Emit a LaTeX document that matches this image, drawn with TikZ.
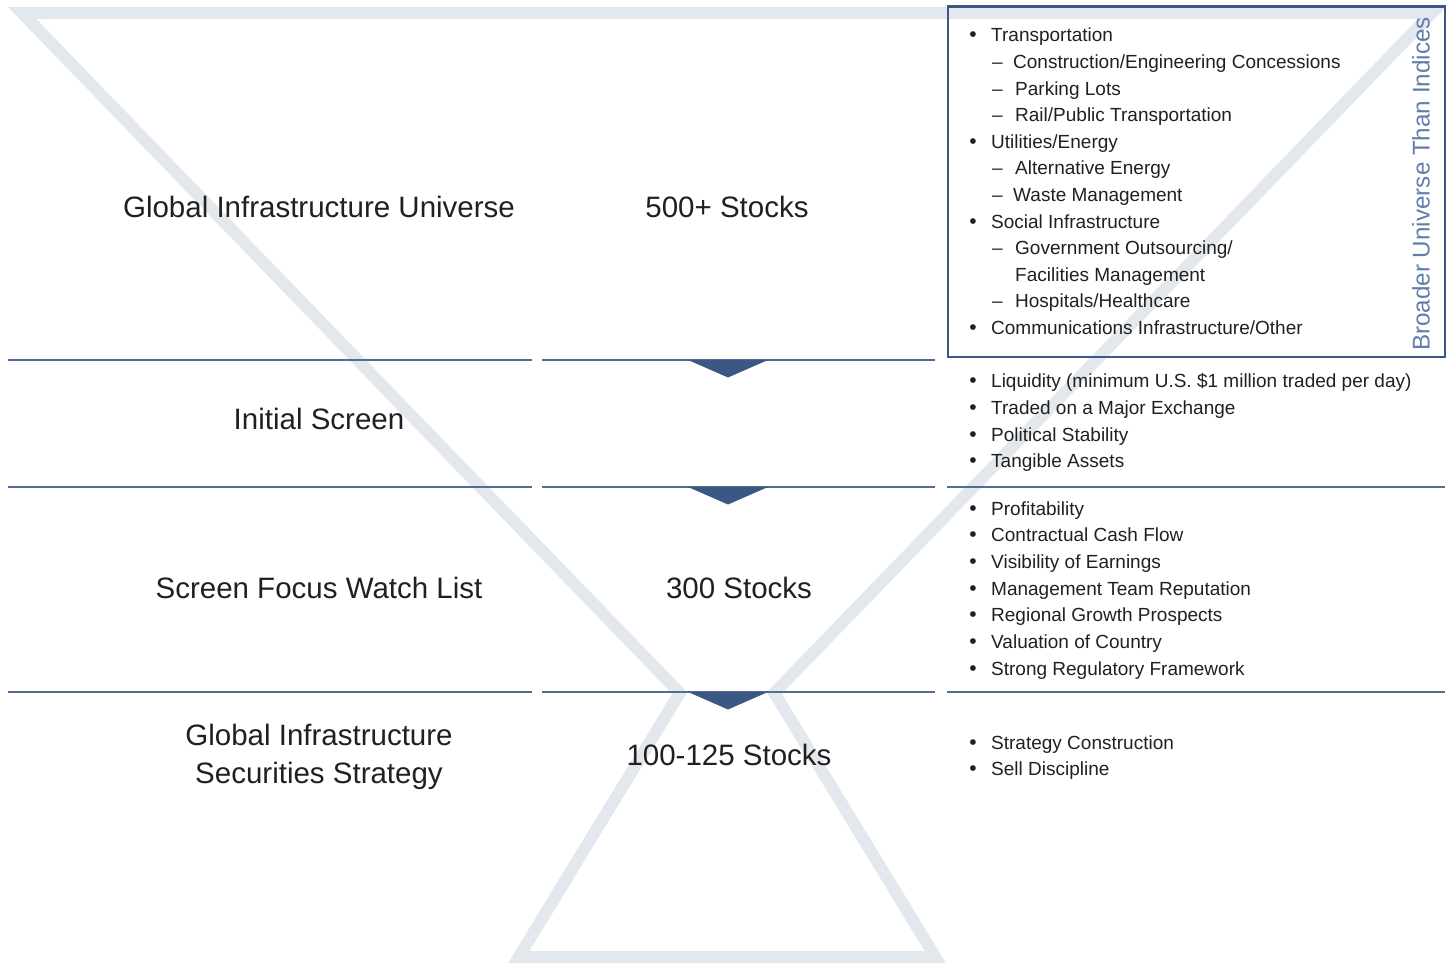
\documentclass[tikz,border=0pt]{standalone}
\usepackage{fontspec}
\setmainfont{Liberation Sans}
\definecolor{band}{RGB}{227,232,238}
\definecolor{rule}{RGB}{84,108,145}
\definecolor{navy}{RGB}{59,88,132}
\definecolor{steel}{RGB}{96,126,170}
\definecolor{ink}{RGB}{35,31,32}
\begin{document}
\begin{tikzpicture}[x=1pt,y=-1pt,
  head/.style={font=\fontsize{29.5}{36}\selectfont, text=ink, anchor=base, inner sep=0pt},
  item/.style={font=\fontsize{19}{23}\selectfont, text=ink, anchor=base west, inner sep=0pt},
  dot/.style={font=\fontsize{21}{23}\selectfont, text=ink, anchor=base, inner sep=0pt},
  sep/.style={draw=rule, line width=1.6pt},
  marker/.style={fill=navy},
  frame/.style={draw=navy, line width=2.6pt},
  sidelabel/.style={font=\fontsize{24.2}{28}\selectfont, text=steel, rotate=90, inner sep=0pt},
]
\useasboundingbox (0,0) rectangle (1453,973);

% hourglass outline behind everything
\draw[band, line width=12pt, line join=miter]
  (22.1,13) -- (1431.9,13) -- (774.3,693) -- (935.3,957)
  -- (518.7,957) -- (679.7,693) -- cycle;

% row separators
\foreach \y in {360,487,692} {
  \draw[sep] (8,\y) -- (532,\y);
  \draw[sep] (542,\y) -- (935,\y);
}
\foreach \y in {487,692} {
  \draw[sep] (947,\y) -- (1445,\y);
}

% downward markers on the separators
\foreach \y in {360,487,692} {
  \fill[marker] (688,\y) -- (768,\y) -- (728,\y+17.5) -- cycle;
}

% framed category box
\draw[frame] (948,6.5) rectangle (1445,357);
\node[sidelabel] (side) at (1421,184) {Broader Universe Than Indices};

% stage titles
\node[head] (u1) at (319,218) {Global Infrastructure Universe};
\node[head] (u2) at (727,218) {500+ Stocks};
\node[head] (s1) at (319,429) {Initial Screen};
\node[head] (w1) at (319,598) {Screen Focus Watch List};
\node[head] (w2) at (739,598) {300 Stocks};
\node[head] (g1) at (319,745) {Global Infrastructure};
\node[head] (g2) at (319,783) {Securities Strategy};
\node[head] (g3) at (729,765) {100-125 Stocks};

% universe categories
\node[dot]  (a1b) at (973,42)    {•}; \node[item] (a1) at (991,42)    {Transportation};
\node[item] (a2d) at (992,68.6)  {–}; \node[item] (a2) at (1013,68.6) {Construction/Engineering Concessions};
\node[item] (a3d) at (992,95.2)  {–}; \node[item] (a3) at (1015,95.2) {Parking Lots};
\node[item] (a4d) at (992,121.8) {–}; \node[item] (a4) at (1015,121.8) {Rail/Public Transportation};
\node[dot]  (a5b) at (973,148.4) {•}; \node[item] (a5) at (991,148.4) {Utilities/Energy};
\node[item] (a6d) at (992,175)   {–}; \node[item] (a6) at (1015,175)   {Alternative Energy};
\node[item] (a7d) at (992,201.6) {–}; \node[item] (a7) at (1013,201.6) {Waste Management};
\node[dot]  (a8b) at (973,228.2) {•}; \node[item] (a8) at (991,228.2) {Social Infrastructure};
\node[item] (a9d) at (992,254.8) {–}; \node[item] (a9) at (1015,254.8) {Government Outsourcing/};
                                        \node[item] (a10) at (1015,281.4) {Facilities Management};
\node[item] (a11d) at (992,308)  {–}; \node[item] (a11) at (1015,308)  {Hospitals/Healthcare};
\node[dot]  (a12b) at (973,334.6) {•}; \node[item] (a12) at (991,334.6) {Communications Infrastructure/Other};

% initial screen criteria
\node[dot] (b1b) at (973,388)   {•}; \node[item] (b1) at (991,388)   {Liquidity (minimum U.S. \$1 million traded per day)};
\node[dot] (b2b) at (973,414.6) {•}; \node[item] (b2) at (991,414.6) {Traded on a Major Exchange};
\node[dot] (b3b) at (973,441.2) {•}; \node[item] (b3) at (991,441.2) {Political Stability};
\node[dot] (b4b) at (973,467.8) {•}; \node[item] (b4) at (991,467.8) {Tangible Assets};

% watch list criteria
\node[dot] (c1b) at (973,515)   {•}; \node[item] (c1) at (991,515)   {Profitability};
\node[dot] (c2b) at (973,541.7) {•}; \node[item] (c2) at (991,541.7) {Contractual Cash Flow};
\node[dot] (c3b) at (973,568.3) {•}; \node[item] (c3) at (991,568.3) {Visibility of Earnings};
\node[dot] (c4b) at (973,595)   {•}; \node[item] (c4) at (991,595)   {Management Team Reputation};
\node[dot] (c5b) at (973,621.7) {•}; \node[item] (c5) at (991,621.7) {Regional Growth Prospects};
\node[dot] (c6b) at (973,648.3) {•}; \node[item] (c6) at (991,648.3) {Valuation of Country};
\node[dot] (c7b) at (973,675)   {•}; \node[item] (c7) at (991,675)   {Strong Regulatory Framework};

% strategy steps
\node[dot] (d1b) at (973,749) {•}; \node[item] (d1) at (991,749) {Strategy Construction};
\node[dot] (d2b) at (973,775) {•}; \node[item] (d2) at (991,775) {Sell Discipline};
\end{tikzpicture}
\end{document}
